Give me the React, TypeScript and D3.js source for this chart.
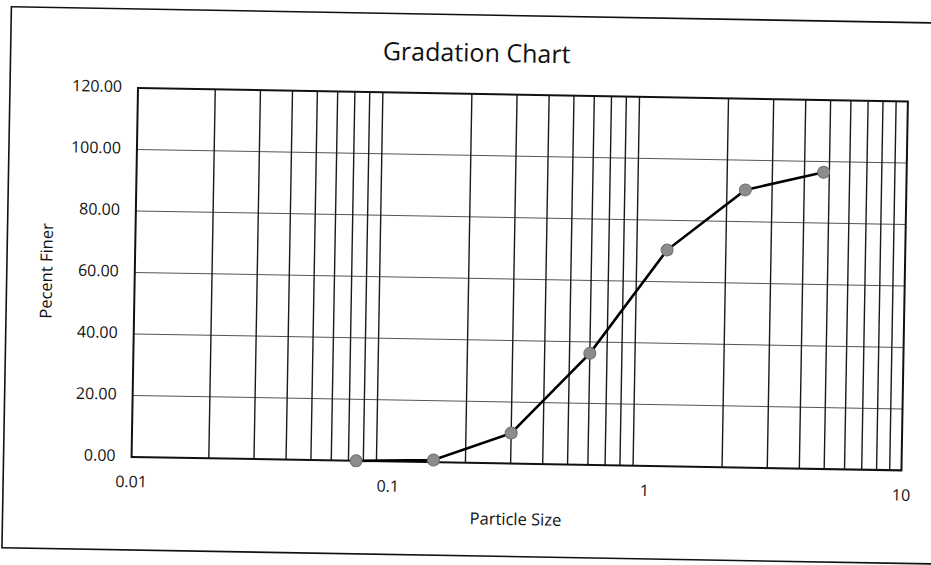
import React from "react";
import * as d3 from "d3";

const title = "Gradation Chart";
const xTitle = "Particle Size";
const yTitle = "Pecent Finer";
const sieveSizes = [0.075, 0.15, 0.3, 0.6, 1.18, 2.36, 4.75];
const percentFiner = [0, 0.7, 9.9, 36.3, 70.3, 90.3, 96.5];
const xTickValues = [0.01, 0.1, 1, 10];
const xTickLabels = ["0.01", "0.1", "1", "10"];
const yTickValues = [0, 20, 40, 60, 80, 100, 120];
const yTickLabels = ["0.00", "20.00", "40.00", "60.00", "80.00", "100.00", "120.00"];

const W = 931;
const H = 565;
const M = { left: 138, top: 88, right: 908, bottom: 457 };
const FONT = "'Open Sans', sans-serif";

export default function App() {
  const x = d3.scaleLog().domain([0.01, 10]).range([M.left, M.right]);
  const y = d3.scaleLinear().domain([0, 120]).range([M.bottom, M.top]);

  const minor: number[] = [];
  [0.01, 0.1, 1].forEach((d) => {
    for (let k = 2; k <= 9; k++) minor.push(d * k);
  });

  const pts = sieveSizes.map((s, i) => [s, percentFiner[i]] as [number, number]);
  const line = d3
    .line<[number, number]>()
    .x((d) => x(d[0]))
    .y((d) => y(d[1]));

  return (
    <svg
      width={W}
      height={H}
      style={{ position: "absolute", left: 0, top: 0, background: "#fff" }}
    >
      <rect x={0} y={0} width={W} height={H} fill="#fff" />
      <g transform={`rotate(1 ${M.left} ${M.top})`}>
        <rect x={10} y={9} width={960} height={541} fill="none" stroke="#111" strokeWidth={1.6} />
        <text
          x={476}
          y={49}
          textAnchor="middle"
          dominantBaseline="middle"
          fontFamily={FONT}
          fontSize={25}
          fill="#111"
        >
          {title}
        </text>
        {yTickValues.slice(1, -1).map((v) => (
          <line
            key={"h" + v}
            x1={M.left}
            x2={M.right}
            y1={y(v)}
            y2={y(v)}
            stroke="#555"
            strokeWidth={1}
          />
        ))}
        {minor.map((v) => (
          <line
            key={"v" + v}
            x1={x(v)}
            x2={x(v)}
            y1={M.top}
            y2={M.bottom}
            stroke="#1a1a1a"
            strokeWidth={1.4}
          />
        ))}
        <rect
          x={M.left}
          y={M.top}
          width={M.right - M.left}
          height={M.bottom - M.top}
          fill="none"
          stroke="#111"
          strokeWidth={2}
        />
        {yTickValues.map((v, i) => (
          <text
            key={"yl" + v}
            x={M.left - 16}
            y={y(v)}
            textAnchor="end"
            dominantBaseline="middle"
            fontFamily={FONT}
            fontSize={16}
            fill="#111"
          >
            {yTickLabels[i]}
          </text>
        ))}
        {xTickValues.map((v, i) => (
          <text
            key={"xl" + v}
            x={x(v)}
            y={M.bottom + 26}
            textAnchor="middle"
            dominantBaseline="middle"
            fontFamily={FONT}
            fontSize={16}
            fill="#111"
          >
            {xTickLabels[i]}
          </text>
        ))}
        <text
          x={(M.left + M.right) / 2}
          y={514}
          textAnchor="middle"
          dominantBaseline="middle"
          fontFamily={FONT}
          fontSize={16.5}
          fill="#111"
        >
          {xTitle}
        </text>
        <text
          transform={`translate(51 ${(M.top + M.bottom) / 2}) rotate(-90)`}
          textAnchor="middle"
          dominantBaseline="middle"
          fontFamily={FONT}
          fontSize={16.5}
          fill="#111"
        >
          {yTitle}
        </text>
        <path d={line(pts) || ""} fill="none" stroke="#000" strokeWidth={2.6} />
        {pts.map((d, i) => (
          <circle
            key={"p" + i}
            cx={x(d[0])}
            cy={y(d[1])}
            r={6}
            fill="#8c8c8c"
            stroke="#6e6e6e"
            strokeWidth={1}
          />
        ))}
      </g>
    </svg>
  );
}
